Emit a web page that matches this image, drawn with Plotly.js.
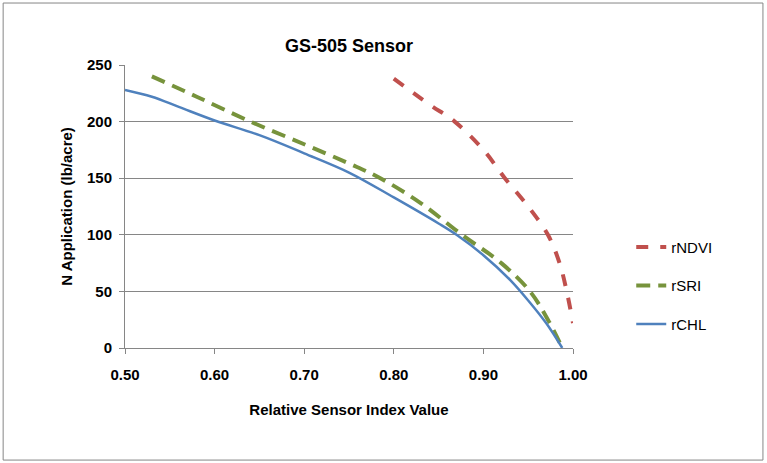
<!DOCTYPE html>
<html>
<head>
<script src="https://cdn.plot.ly/plotly-3.0.1.min.js"></script>
<style>body{margin:0;background:#fff}</style>
</head>
<body>
<div id="chart" style="width:767px;height:463px"></div>
<script>
// values
var ndviX = [0.80, 0.84, 0.868, 0.90, 0.924, 0.95, 0.972, 0.985, 0.993, 1.0];
var ndviY = [238, 215, 200, 175, 150, 125, 100, 75, 50, 22];

var sriX = [0.53, 0.58, 0.64, 0.70, 0.75, 0.785, 0.83, 0.876, 0.92, 0.952, 0.972, 0.988];
var sriY = [240, 222, 200, 180, 163, 150, 128, 100, 75, 50, 25, 0];

var chlX = [0.50, 0.53, 0.56, 0.60, 0.65, 0.70, 0.75, 0.80, 0.85, 0.87, 0.90, 0.93, 0.95, 0.97, 0.988];
var chlY = [228, 222, 213, 201, 188, 172, 155, 133, 110, 100, 82, 60, 42, 22, 0];

var xTicks = [0.5, 0.6, 0.7, 0.8, 0.9, 1.0];
var xTickText = ['0.50', '0.60', '0.70', '0.80', '0.90', '1.00'];
var yTicks = [0, 50, 100, 150, 200, 250];

var data = [
    {x: ndviX, y: ndviY, type: 'scatter', mode: 'lines', name: 'rNDVI', legendgroup: 'a',
     line: {color: '#C0504D', width: 4, dash: 'dash', shape: 'spline'}, cliponaxis: false},
    {x: sriX, y: sriY, type: 'scatter', mode: 'lines', name: 'rSRI', legendgroup: 'b',
     line: {color: '#77933C', width: 4, dash: '14px,8px', shape: 'spline'}},
    {x: chlX, y: chlY, type: 'scatter', mode: 'lines', name: 'rCHL', legendgroup: 'c',
     line: {color: '#4F81BD', width: 2.5, shape: 'spline'}}
];

var layout = {
    width: 767, height: 463,
    margin: {l: 125, r: 194, t: 65, b: 115},
    font: {family: 'Liberation Sans, Arial, sans-serif', color: '#000'},
    title: {text: '<b>GS-505 Sensor</b>', font: {size: 18}, x: 0.5, xref: 'paper', y: 0.915},
    xaxis: {
        range: [0.5, 1.0], tickvals: xTicks, ticktext: xTickText.map(t => '<b>' + t + '</b>'),
        showgrid: false, zeroline: false, showline: true, linecolor: '#868686',
        ticks: 'outside', ticklen: 5, tickcolor: '#868686', ticklabelstandoff: 8,
        tickfont: {size: 15},
        title: {text: '<b>Relative Sensor Index Value</b>', font: {size: 15}, standoff: 22}
    },
    yaxis: {
        range: [0, 250], tickvals: yTicks, ticktext: yTicks.map(t => '<b>' + t + '</b>'),
        showgrid: true, gridcolor: '#868686', zeroline: false,
        showline: true, linecolor: '#868686',
        ticks: 'outside', ticklen: 5, tickcolor: '#868686', ticklabelstandoff: 4,
        tickfont: {size: 15},
        title: {text: '<b>N Application (lb/acre)</b>', font: {size: 15}, standoff: 10}
    },
    legend: {x: 1.13, y: 0.22, yanchor: 'middle', font: {size: 15}, tracegroupgap: 16},
    shapes: [{type: 'rect', xref: 'paper', yref: 'paper', x0: -0.272, x1: 1.424, y0: -0.396, y1: 1.219,
              line: {color: '#868686', width: 1}}],
    plot_bgcolor: '#fff', paper_bgcolor: '#fff'
};

Plotly.newPlot(document.getElementById('chart'), data, layout, {displayModeBar: false});
</script>
</body>
</html>
